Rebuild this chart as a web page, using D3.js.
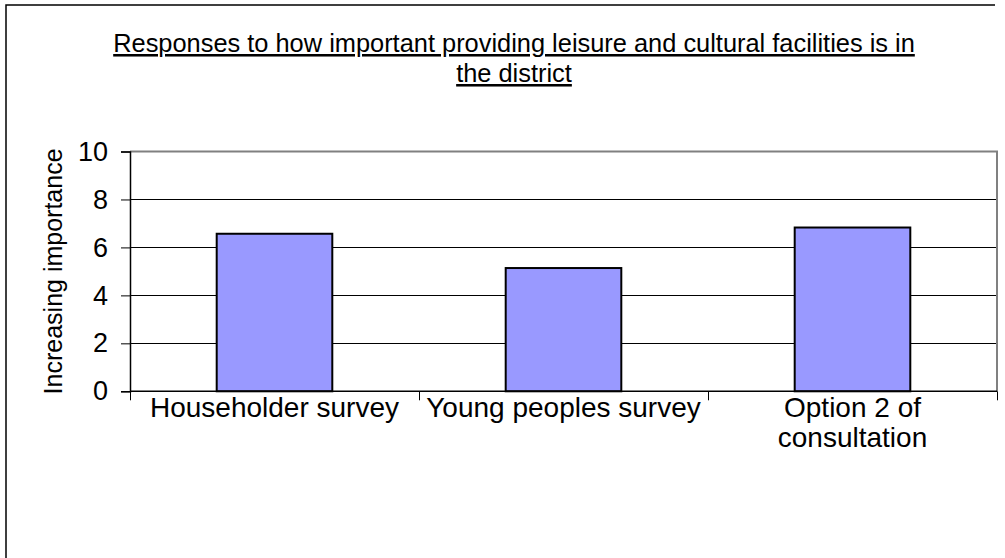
<!DOCTYPE html>
<html>
<head>
<meta charset="utf-8">
<script src="https://cdn.jsdelivr.net/npm/d3@7/dist/d3.min.js"></script>
<style>
  html, body { margin: 0; padding: 0; background: #fff; }
  svg { display: block; font-family: "Liberation Sans", Arial, sans-serif; }
</style>
</head>
<body>
<svg id="chart" width="1005" height="558"></svg>
<script>
// Survey categories and their average importance scores
const categories = ["Householder survey", "Young peoples survey", "Option 2 of consultation"];
const categoryLines = [["Householder survey"], ["Young peoples survey"], ["Option 2 of", "consultation"]];
const values = [6.57, 5.14, 6.83];
const yTicks = [0, 2, 4, 6, 8, 10];
const titleLines = ["Responses to how important providing leisure and cultural facilities is in", "the district"];
const yTitle = "Increasing importance";

const svg = d3.select("#chart");

// Outer chart frame (only top and left edges fall inside the view)
svg.append("path")
  .attr("d", "M6,558 V5 H995")
  .attr("fill", "none")
  .attr("stroke", "#000")
  .attr("stroke-width", 1.5);

const plot = { left: 130, right: 997, top: 151.5, bottom: 391.3 };

const x = d3.scaleBand()
  .domain(categories)
  .range([plot.left, plot.right])
  .paddingInner(0.6)
  .paddingOuter(0.3);

const y = d3.scaleLinear()
  .domain([0, 10])
  .range([plot.bottom, plot.top]);

// Horizontal gridlines
svg.append("g")
  .selectAll("line")
  .data(yTicks.filter(t => t > 0 && t < 10))
  .join("line")
  .attr("x1", plot.left)
  .attr("x2", plot.right)
  .attr("y1", d => Math.round(y(d)) + 0.5)
  .attr("y2", d => Math.round(y(d)) + 0.5)
  .attr("stroke", "#000")
  .attr("stroke-width", 1);

// Plot area border (top and right, grey)
svg.append("path")
  .attr("d", `M${plot.left},${y(10)} H${plot.right} V${plot.bottom}`)
  .attr("fill", "none")
  .attr("stroke", "#808080")
  .attr("stroke-width", 2);

// Bars
svg.append("g")
  .selectAll("rect")
  .data(values)
  .join("rect")
  .attr("x", (d, i) => x(categories[i]))
  .attr("width", x.bandwidth())
  .attr("y", d => y(d))
  .attr("height", d => y(0) - y(d))
  .attr("fill", "#9999FF")
  .attr("stroke", "#000")
  .attr("stroke-width", 2);

// Y axis
const yAxis = svg.append("g")
  .attr("transform", `translate(${plot.left},0)`)
  .call(d3.axisLeft(y).tickValues(yTicks).tickSize(9).tickPadding(13).tickFormat(d3.format("d")));
yAxis.select(".domain").attr("stroke", "#000").attr("stroke-width", 1.5);
yAxis.selectAll(".tick line").attr("stroke", "#000");
yAxis.selectAll(".tick text")
  .attr("font-size", 27)
  .attr("fill", "#000")
  .attr("font-family", "'Liberation Sans', Arial, sans-serif");

// X axis: tick marks at category boundaries
const boundaries = [plot.left, ...categories.slice(1).map(c => x(c) - x.step() * x.paddingInner() / 2), plot.right];
svg.append("line")
  .attr("x1", plot.left).attr("x2", plot.right)
  .attr("y1", plot.bottom).attr("y2", plot.bottom)
  .attr("stroke", "#000").attr("stroke-width", 1.5);
svg.append("g")
  .selectAll("line")
  .data(boundaries)
  .join("line")
  .attr("x1", d => Math.round(d) + 0.5)
  .attr("x2", d => Math.round(d) + 0.5)
  .attr("y1", plot.bottom)
  .attr("y2", plot.bottom + 9)
  .attr("stroke", "#000");

// Category labels
const catG = svg.append("g");
categories.forEach((c, i) => {
  const t = catG.append("text")
    .attr("x", x(c) + x.bandwidth() / 2)
    .attr("y", 417)
    .attr("text-anchor", "middle")
    .attr("font-size", 28)
    .attr("fill", "#000");
  categoryLines[i].forEach((line, j) => {
    t.append("tspan")
      .attr("x", x(c) + x.bandwidth() / 2)
      .attr("dy", j === 0 ? 0 : 30)
      .text(line);
  });
});

// Y axis title
svg.append("text")
  .attr("transform", `translate(53,${(plot.top + plot.bottom) / 2}) rotate(-90)`)
  .attr("text-anchor", "middle")
  .attr("dominant-baseline", "central")
  .attr("font-size", 25)
  .attr("fill", "#000")
  .text(yTitle);

// Title, underlined
const title = svg.append("text")
  .attr("text-anchor", "middle")
  .attr("font-size", 25.4)
  .attr("fill", "#000")
  .attr("text-decoration", "underline");
titleLines.forEach((line, j) => {
  title.append("tspan")
    .attr("x", 514)
    .attr("y", 52 + j * 30)
    .text(line);
});
</script>
</body>
</html>
